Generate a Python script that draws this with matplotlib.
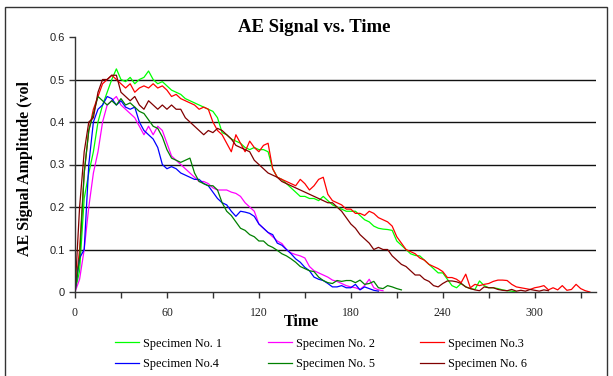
import numpy as np
import matplotlib.pyplot as plt
from matplotlib.patches import Rectangle

STEP = 3  # seconds between readings

spec1 = [0.0, 0.05, 0.22, 0.28, 0.33, 0.40, 0.44, 0.47, 0.50, 0.525, 0.50, 0.495, 0.505, 0.49, 0.50,
         0.505, 0.52, 0.50, 0.49, 0.495, 0.485, 0.475, 0.47, 0.465, 0.455, 0.45, 0.445, 0.44, 0.435,
         0.43, 0.425, 0.41, 0.375, 0.37, 0.36, 0.355, 0.35, 0.34, 0.335, 0.34, 0.335, 0.335, 0.33,
         0.29, 0.27, 0.265, 0.255, 0.245, 0.235, 0.225, 0.225, 0.22, 0.22, 0.215, 0.225, 0.215, 0.205,
         0.20, 0.195, 0.19, 0.19, 0.19, 0.18, 0.17, 0.165, 0.155, 0.15, 0.148, 0.147, 0.145, 0.12,
         0.11, 0.10, 0.09, 0.086, 0.085, 0.075, 0.065, 0.055, 0.045, 0.045, 0.03, 0.015, 0.01, 0.02,
         0.012, 0.008, 0.006, 0.026, 0.015, 0.01, 0.01, 0.008, 0.005, 0.003, 0.002, 0.0]
spec2 = [0.0, 0.03, 0.10, 0.20, 0.28, 0.33, 0.40, 0.44, 0.45, 0.46, 0.44, 0.43, 0.42, 0.41, 0.39,
         0.37, 0.39, 0.37, 0.39, 0.38, 0.35, 0.32, 0.31, 0.30, 0.29, 0.28, 0.27, 0.26, 0.26, 0.255,
         0.245, 0.24, 0.24, 0.24, 0.235, 0.232, 0.225, 0.21, 0.20, 0.19, 0.16, 0.15, 0.14, 0.13, 0.12,
         0.114, 0.10, 0.092, 0.088, 0.085, 0.08, 0.06, 0.05, 0.045, 0.04, 0.035, 0.028, 0.025, 0.02,
         0.015, 0.012, 0.01, 0.006, 0.015, 0.03, 0.01, 0.005, 0.003]
spec3 = [0.0, 0.10, 0.28, 0.38, 0.43, 0.46, 0.49, 0.50, 0.51, 0.50, 0.49, 0.48, 0.49, 0.47, 0.48,
         0.485, 0.48, 0.49, 0.48, 0.485, 0.475, 0.46, 0.465, 0.455, 0.45, 0.445, 0.44, 0.43, 0.435,
         0.43, 0.40, 0.38, 0.37, 0.35, 0.33, 0.37, 0.35, 0.33, 0.355, 0.34, 0.33, 0.345, 0.35, 0.29,
         0.27, 0.265, 0.26, 0.255, 0.25, 0.265, 0.255, 0.24, 0.25, 0.265, 0.27, 0.23, 0.215, 0.21,
         0.205, 0.195, 0.195, 0.185, 0.185, 0.18, 0.19, 0.185, 0.175, 0.17, 0.165, 0.155, 0.13, 0.115,
         0.10, 0.095, 0.09, 0.08, 0.075, 0.065, 0.06, 0.055, 0.048, 0.034, 0.034, 0.03, 0.022, 0.042,
         0.01, 0.018, 0.015, 0.018, 0.02, 0.025, 0.028, 0.028, 0.027, 0.018, 0.012, 0.01, 0.008, 0.006,
         0.01, 0.012, 0.015, 0.005, 0.01, 0.005, 0.015, 0.004, 0.006, 0.018, 0.008, 0.003, 0.0]
spec4 = [0.0, 0.08, 0.10, 0.30, 0.40, 0.43, 0.44, 0.46, 0.455, 0.44, 0.45, 0.435, 0.43, 0.435, 0.40,
         0.38, 0.37, 0.36, 0.34, 0.30, 0.29, 0.295, 0.29, 0.28, 0.275, 0.27, 0.265, 0.265, 0.255, 0.25,
         0.235, 0.22, 0.21, 0.205, 0.19, 0.178, 0.19, 0.188, 0.185, 0.178, 0.16, 0.15, 0.14, 0.135,
         0.115, 0.11, 0.10, 0.09, 0.078, 0.07, 0.058, 0.05, 0.035, 0.03, 0.027, 0.02, 0.012, 0.012,
         0.015, 0.01, 0.01, 0.018, 0.005, 0.012, 0.008, 0.004, 0.002]
spec5 = [0.0, 0.08, 0.28, 0.38, 0.42, 0.46, 0.45, 0.44, 0.45, 0.44, 0.455, 0.44, 0.445, 0.435, 0.425,
         0.42, 0.405, 0.39, 0.385, 0.365, 0.335, 0.315, 0.31, 0.305, 0.31, 0.315, 0.28, 0.26, 0.255,
         0.25, 0.25, 0.24, 0.21, 0.19, 0.18, 0.165, 0.15, 0.145, 0.135, 0.13, 0.12, 0.12, 0.11, 0.105,
         0.098, 0.09, 0.085, 0.078, 0.07, 0.06, 0.055, 0.05, 0.048, 0.035, 0.027, 0.022, 0.02, 0.027,
         0.025, 0.027, 0.027, 0.022, 0.028, 0.018, 0.02, 0.025, 0.01, 0.008, 0.015, 0.012, 0.008, 0.005]
spec6 = [0.0, 0.20, 0.33, 0.40, 0.41, 0.47, 0.50, 0.50, 0.51, 0.51, 0.47, 0.46, 0.45, 0.46, 0.44,
         0.43, 0.45, 0.44, 0.43, 0.44, 0.43, 0.44, 0.43, 0.43, 0.41, 0.40, 0.39, 0.38, 0.37, 0.38,
         0.375, 0.385, 0.38, 0.37, 0.36, 0.345, 0.34, 0.335, 0.33, 0.31, 0.30, 0.29, 0.28, 0.275, 0.27,
         0.26, 0.255, 0.25, 0.245, 0.24, 0.235, 0.23, 0.225, 0.22, 0.215, 0.21, 0.21, 0.20, 0.19, 0.175,
         0.16, 0.15, 0.135, 0.125, 0.115, 0.10, 0.105, 0.10, 0.10, 0.085, 0.075, 0.065, 0.06, 0.05,
         0.04, 0.04, 0.03, 0.025, 0.015, 0.012, 0.02, 0.026, 0.026, 0.024, 0.02, 0.012, 0.008, 0.005,
         0.003, 0.012, 0.01, 0.01, 0.006, 0.004, 0.003, 0.006, 0.002, 0.004, 0.002, 0.006, 0.004,
         0.002, 0.005, 0.003]

series = [
    ("Specimen No. 1", spec1, "#00ff00"),
    ("Specimen No. 2", spec2, "#ff00ff"),
    ("Specimen No.3", spec3, "#ff0000"),
    ("Specimen No.4", spec4, "#0000ff"),
    ("Specimen No. 5", spec5, "#008000"),
    ("Specimen No. 6", spec6, "#800000"),
]

fig = plt.figure(figsize=(6.13, 3.76), dpi=100)
ax = fig.add_axes([75 / 613, 84 / 376, 521 / 613, 255 / 376])

lines = []
for name, vals, color in series:
    t = np.arange(len(vals)) * STEP
    ln, = ax.plot(t, vals, color=color, linewidth=0.9, label=name)
    lines.append(ln)

ax.set_xlim(0, 340)
ax.set_ylim(0, 0.6)

for y in [0.1, 0.2, 0.3, 0.4, 0.5]:
    ax.axhline(y, color="#111111", linewidth=1.0, zorder=0)

for side in ["top", "right"]:
    ax.spines[side].set_visible(False)
for side in ["left", "bottom"]:
    ax.spines[side].set_color("#333333")
    ax.spines[side].set_linewidth(1.0)

ax.set_yticks([0, 0.1, 0.2, 0.3, 0.4, 0.5, 0.6])
ax.set_yticklabels(["0", "0.1", "0.2", "0.3", "0.4", "0.5", "0.6"],
                   family="Liberation Sans", fontsize=8, color="#222222")
ax.set_xticks(range(0, 341, 30))
ax.set_xticklabels(["0" if v == 0 else (str(v) if v % 60 == 0 else "") for v in range(0, 341, 30)],
                   family="Liberation Serif", fontsize=8.5, color="#222222")
ax.tick_params(axis="both", direction="out", length=4, width=1, color="#333333")
ax.tick_params(axis="x", pad=7)

fig.text(314 / 613, 1 - 28 / 376, "AE Signal vs. Time", ha="center", va="center",
         family="Liberation Serif", fontweight="bold", fontsize=13.5)
fig.text(25 / 613, 1 - 168 / 376, "AE Signal Amplitude (vol", ha="center", va="center",
         rotation=90, family="Liberation Serif", fontweight="bold", fontsize=11.5)
fig.text(301 / 613, 1 - 322 / 376, "Time", ha="center", va="center",
         family="Liberation Serif", fontweight="bold", fontsize=11.5)

# matplotlib fills legend columns first; reorder so rows read 1-2-3 / 4-5-6
order = [0, 3, 1, 4, 2, 5]
fig.legend([lines[i] for i in order], [series[i][0] for i in order],
           loc="center", bbox_to_anchor=(321 / 613, 1 - 354 / 376), ncol=3, frameon=False,
           prop={"family": "Liberation Serif", "size": 8.8}, handlelength=2.0,
           handletextpad=0.3, columnspacing=3.7, labelspacing=0.7)

fig.patches.append(Rectangle((5 / 613, -0.1), 602 / 613, 1.1 - 7 / 376, transform=fig.transFigure,
                             fill=False, edgecolor="#333333", linewidth=1.0))

fig.savefig("out.png", dpi=100)
